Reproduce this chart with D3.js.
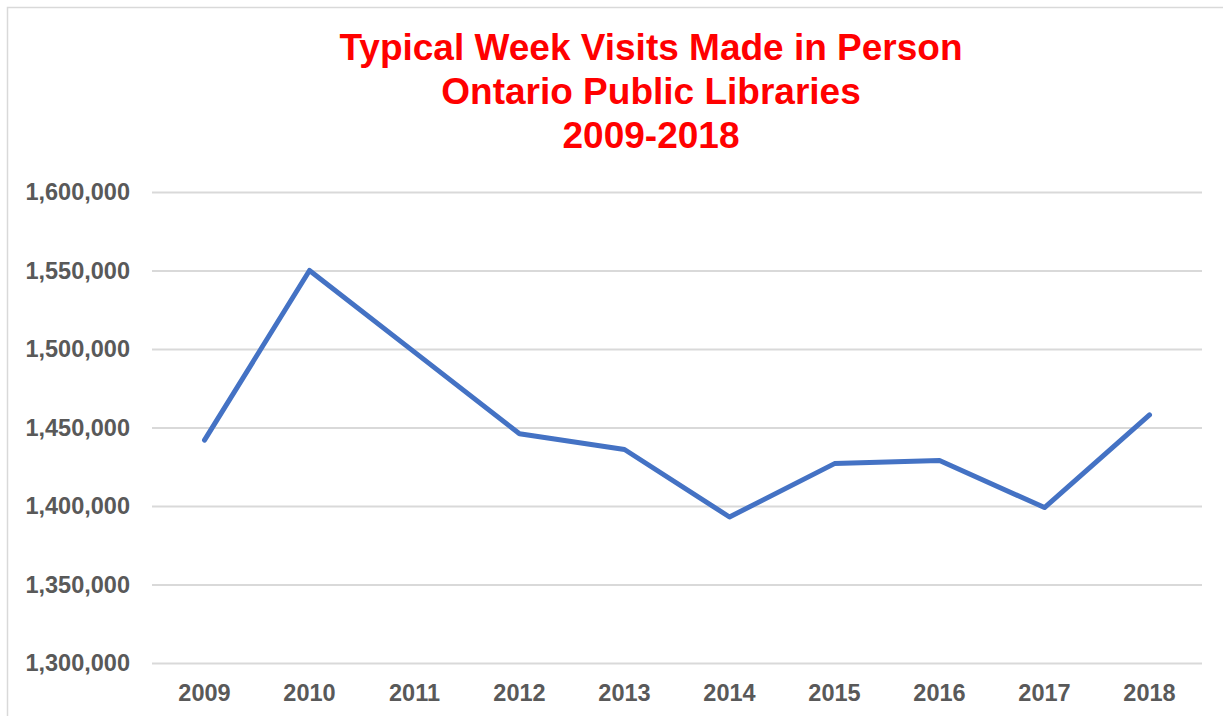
<!DOCTYPE html>
<html>
<head>
<meta charset="utf-8">
<script src="https://cdn.jsdelivr.net/npm/d3@7"></script>
<style>
  html, body { margin: 0; padding: 0; background: #fff; }
  svg { display: block; font-family: "Liberation Sans", Arial, sans-serif; }
</style>
</head>
<body>
<svg id="chart" width="1223" height="716"></svg>
<script>
// chart data
const YEARS = ['2009','2010','2011','2012','2013','2014','2015','2016','2017','2018'];
const VISITS = [1442000, 1550000, 1498000, 1446000, 1436000, 1393000, 1427000, 1429000, 1399000, 1458000];
const Y_TICKS = [1300000, 1350000, 1400000, 1450000, 1500000, 1550000, 1600000];
const TITLE_LINES = ['Typical Week Visits Made in Person', 'Ontario Public Libraries', '2009-2018'];

const svg = d3.select('#chart');

// outer frame
svg.append('rect')
    .attr('x', 7.5).attr('y', 7.5)
    .attr('width', 1230).attr('height', 730)
    .attr('fill', '#fff')
    .attr('stroke', '#d9d9d9')
    .attr('stroke-width', 1.5);

const plot = {left: 152, right: 1202, top: 192, bottom: 663};

const xScale = d3.scaleBand()
    .domain(YEARS)
    .range([plot.left, plot.right]);

const yScale = d3.scaleLinear()
    .domain([1300000, 1600000])
    .range([plot.bottom, plot.top]);

// title
svg.append('text')
    .attr('x', 651)
    .attr('y', 60)
    .attr('text-anchor', 'middle')
    .attr('fill', '#ff0000')
    .style('font-weight', 'bold')
    .style('font-size', '37px')
    .selectAll('tspan')
    .data(TITLE_LINES)
    .enter()
    .append('tspan')
    .attr('x', 651)
    .attr('dy', (d, i) => i === 0 ? 0 : 44)
    .text(d => d);

// y axis with gridlines
const yAxis = d3.axisLeft(yScale)
    .tickValues(Y_TICKS)
    .tickSize(-(plot.right - plot.left))
    .tickPadding(22)
    .tickFormat(d3.format(','));

const yG = svg.append('g')
    .attr('transform', `translate(${plot.left},0)`)
    .call(yAxis);
yG.select('.domain').remove();
yG.selectAll('line').attr('stroke', '#d9d9d9').attr('stroke-width', 2);
yG.selectAll('text')
    .attr('fill', '#595959')
    .style('font-size', '23.5px')
    .style('font-weight', 'bold')
    .style('font-family', '"Liberation Sans", Arial, sans-serif');

// x axis
const xAxis = d3.axisBottom(xScale).tickSize(0).tickPadding(21);
const xG = svg.append('g')
    .attr('transform', `translate(0,${plot.bottom})`)
    .call(xAxis);
xG.select('.domain').remove();
xG.selectAll('text')
    .attr('fill', '#595959')
    .style('font-size', '23.5px')
    .style('font-weight', 'bold')
    .style('font-family', '"Liberation Sans", Arial, sans-serif');

// line
const line = d3.line()
    .x((d, i) => xScale(YEARS[i]) + xScale.bandwidth() / 2)
    .y(d => yScale(d));

svg.append('path')
    .datum(VISITS)
    .attr('d', line)
    .attr('fill', 'none')
    .attr('stroke', '#4472c4')
    .attr('stroke-width', 5)
    .attr('stroke-linecap', 'round')
    .attr('stroke-linejoin', 'round');
</script>
</body>
</html>
